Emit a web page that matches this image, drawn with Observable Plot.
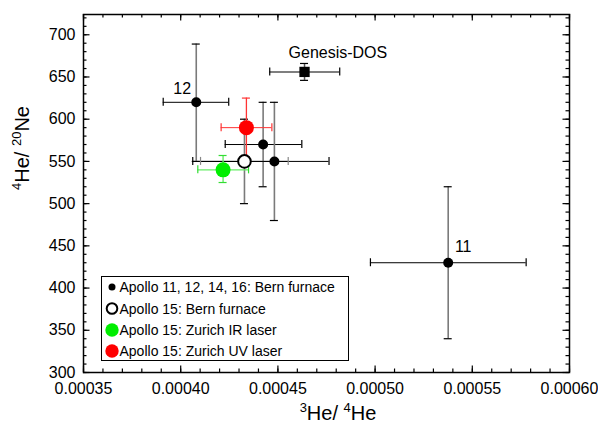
<!DOCTYPE html>
<html><head><meta charset="utf-8">
<script src="https://cdn.jsdelivr.net/npm/d3@7"></script>
<script src="https://cdn.jsdelivr.net/npm/@observablehq/plot@0.6"></script>
<style>
body{margin:0;background:#fff;}
#chart{position:relative;width:598px;height:431px;}
</style>
</head><body><div id="chart"></div>
<script>
// ---- data ----
const bernLabel = ["12", "", "", "11"];
const bernX    = [0.000408, 0.0004424, 0.0004482, 0.0005376];
const bernXmin = [0.000391, 0.0004229, 0.0004062, 0.0004976];
const bernXmax = [0.0004247, 0.0004623, 0.0004763, 0.0005777];
const bernY    = [620, 570, 550, 430];
const bernYmin = [550, 520, 480, 340];
const bernYmax = [689, 620, 620, 520];

const genesisLabel = "Genesis-DOS";
const genesisX = [0.0004637], genesisXmin = [0.0004458], genesisXmax = [0.0004818];
const genesisY = [656], genesisYmin = [646], genesisYmax = [666];

const a15BernX = [0.0004328], a15BernXmin = [0.0004102], a15BernXmax = [0.0004553];
const a15BernY = [550], a15BernYmin = [500], a15BernYmax = [600];

const irX = [0.0004218], irXmin = [0.0004088], irXmax = [0.0004349];
const irY = [540], irYmin = [525], irYmax = [557];

const uvX = [0.0004338], uvXmin = [0.0004208], uvXmax = [0.0004469];
const uvY = [590], uvYmin = [555], uvYmax = [625];

const legendLabels = [
  "Apollo 11, 12, 14, 16: Bern furnace",
  "Apollo 15: Bern furnace",
  "Apollo 15: Zurich IR laser",
  "Apollo 15: Zurich UV laser"
];

const xTicks = [0.00035, 0.0004, 0.00045, 0.0005, 0.00055, 0.0006];
const xTickLabels = ["0.00035", "0.00040", "0.00045", "0.00050", "0.00055", "0.00060"];
const yTicks = [300, 350, 400, 450, 500, 550, 600, 650, 700];
const yTickLabels = ["300", "350", "400", "450", "500", "550", "600", "650", "700"];
const xMinorTicks = d3.range(35, 61).map(v => v / 100000);
const yMinorTicks = d3.range(300, 725, 10);

// ---- build tables ----
function rows(X, Xmin, Xmax, Y, Ymin, Ymax, L) {
  return X.map((x, i) => ({x, xmin: Xmin[i], xmax: Xmax[i], y: Y[i], ymin: Ymin[i], ymax: Ymax[i], label: L ? L[i] : ""}));
}
const bern = rows(bernX, bernXmin, bernXmax, bernY, bernYmin, bernYmax, bernLabel);
const genesis = rows(genesisX, genesisXmin, genesisXmax, genesisY, genesisYmin, genesisYmax, [genesisLabel]);
const a15 = rows(a15BernX, a15BernXmin, a15BernXmax, a15BernY, a15BernYmin, a15BernYmax);
const ir = rows(irX, irXmin, irXmax, irY, irYmin, irYmax);
const uv = rows(uvX, uvXmin, uvXmax, uvY, uvYmin, uvYmax);

const xLab = new Map(xTicks.map((t, i) => [t, xTickLabels[i]]));
const yLab = new Map(yTicks.map((t, i) => [t, yTickLabels[i]]));

function errorBars(data, s) {
  return [
    Plot.ruleY(data, {y: "y", x1: "xmin", x2: "xmax", stroke: s.h, strokeWidth: s.hw || 1}),
    Plot.ruleX(data, {x: "x", y1: "ymin", y2: "ymax", stroke: s.v, strokeWidth: s.vw || 1}),
    Plot.ruleX(data, {x: "xmin", y1: "y", y2: "y", insetTop: -4, insetBottom: -4, stroke: s.xc, strokeWidth: 1.2}),
    Plot.ruleX(data, {x: "xmax", y1: "y", y2: "y", insetTop: -4, insetBottom: -4, stroke: s.xc, strokeWidth: 1.2}),
    Plot.ruleY(data, {y: "ymin", x1: "x", x2: "x", insetLeft: -4, insetRight: -4, stroke: s.yc, strokeWidth: 1.2}),
    Plot.ruleY(data, {y: "ymax", x1: "x", x2: "x", insetLeft: -4, insetRight: -4, stroke: s.yc, strokeWidth: 1.2})
  ];
}

const W = 598, H = 431, mL = 83, mR = 29, mT = 14, mB = 59;
const pw = W - mL - mR, ph = H - mT - mB;
const maj = 6.5, mnr = 3.5;

const chart = Plot.plot({
  width: W, height: H,
  marginLeft: mL, marginRight: mR, marginTop: mT, marginBottom: mB,
  x: {domain: [0.00035, 0.0006]},
  y: {domain: [300, 724]},
  style: {fontFamily: "'Liberation Sans', Arial, sans-serif", fontSize: "16px", color: "black", background: "white", overflow: "visible"},
  marks: [
    Plot.axisX(xTicks, {anchor: "bottom", tickSize: 0, tickPadding: 10, tickFormat: d => xLab.get(d), label: null, fill: "black"}),
    Plot.axisY(yTicks, {anchor: "left", tickSize: 0, tickPadding: 8, tickFormat: d => yLab.get(d), label: null, fill: "black"}),
    // inward ticks on all four sides
    Plot.tickX(xTicks, {x: d => d, insetTop: ph - maj, stroke: "black", strokeWidth: 1.2}),
    Plot.tickX(xTicks, {x: d => d, insetBottom: ph - maj, stroke: "black", strokeWidth: 1.2}),
    Plot.tickX(xMinorTicks, {x: d => d, insetTop: ph - mnr, stroke: "black", strokeWidth: 1.2}),
    Plot.tickX(xMinorTicks, {x: d => d, insetBottom: ph - mnr, stroke: "black", strokeWidth: 1.2}),
    Plot.tickY(yTicks, {y: d => d, insetRight: pw - maj, stroke: "black", strokeWidth: 1.2}),
    Plot.tickY(yTicks, {y: d => d, insetLeft: pw - maj, stroke: "black", strokeWidth: 1.2}),
    Plot.tickY(yMinorTicks, {y: d => d, insetRight: pw - mnr, stroke: "black", strokeWidth: 1.2}),
    Plot.tickY(yMinorTicks, {y: d => d, insetLeft: pw - mnr, stroke: "black", strokeWidth: 1.2}),
    // error bars
    ...errorBars(bern, {h: "black", v: "#7a7a7a", vw: 1.6, xc: "black", yc: "black"}),
    ...errorBars(genesis, {h: "#555", hw: 1.5, v: "#555", vw: 1.5, xc: "black", yc: "black"}),
    ...errorBars(a15, {h: "black", v: "#7a7a7a", vw: 1.6, xc: "#888", yc: "black"}),
    ...errorBars(ir, {h: "#66ee66", hw: 1.4, v: "#66ee66", vw: 1.4, xc: "#33dd33", yc: "#33dd33"}),
    ...errorBars(uv, {h: "#ff3333", v: "#ff3333", vw: 1.3, xc: "#ff3333", yc: "#ff3333"}),
    // points
    Plot.dot(bern, {x: "x", y: "y", r: 5, fill: "black"}),
    Plot.dot(genesis, {x: "x", y: "y", r: 5.8, symbol: "square", fill: "black"}),
    Plot.dot(a15, {x: "x", y: "y", r: 6.3, fill: "white", stroke: "black", strokeWidth: 2}),
    Plot.dot(ir, {x: "x", y: "y", r: 7.5, fill: "#00ee00"}),
    Plot.dot(uv, {x: "x", y: "y", r: 7.5, fill: "#ff0000"}),
    // labels
    Plot.text(bern, {filter: d => d.label === "12", x: "x", y: "y", text: "label", dx: -14, dy: -13, fontSize: 16}),
    Plot.text(bern, {filter: d => d.label === "11", x: "x", y: "y", text: "label", dx: 15, dy: -16, fontSize: 16}),
    Plot.text(genesis, {x: "x", y: "y", text: "label", dx: -16, dy: -19, textAnchor: "start", fontSize: 16}),
    Plot.frame({stroke: "black", strokeWidth: 1.5})
  ]
});

document.getElementById("chart").appendChild(chart);

// ---- axis titles with superscripts ----
const svg = d3.select(chart);
const ff = "'Liberation Sans', Arial, sans-serif";
const xt = svg.append("text").attr("x", 338).attr("y", 420).attr("text-anchor", "middle")
  .attr("font-family", ff).attr("font-size", 20).attr("fill", "black");
xt.append("tspan").attr("font-size", 13).attr("dy", -8).text("3");
xt.append("tspan").attr("dy", 8).text("He/ ");
xt.append("tspan").attr("font-size", 13).attr("dy", -8).text("4");
xt.append("tspan").attr("dy", 8).text("He");

const yt = svg.append("text").attr("transform", "translate(29,148) rotate(-90)").attr("text-anchor", "middle")
  .attr("font-family", ff).attr("font-size", 20).attr("fill", "black");
yt.append("tspan").attr("font-size", 13).attr("dy", -8).text("4");
yt.append("tspan").attr("dy", 8).text("He/ ");
yt.append("tspan").attr("font-size", 13).attr("dy", -8).text("20");
yt.append("tspan").attr("dy", 8).text("Ne");

// ---- legend ----
const lg = svg.append("g").attr("font-family", ff).attr("font-size", 14).attr("text-anchor", "start");
lg.append("rect").attr("x", 101.5).attr("y", 276.5).attr("width", 247).attr("height", 84)
  .attr("fill", "white").attr("stroke", "black").attr("stroke-width", 1);
const legendSym = [
  {r: 3.5, fill: "black", stroke: "none", sw: 0},
  {r: 5.3, fill: "white", stroke: "black", sw: 2},
  {r: 6.7, fill: "#00ee00", stroke: "none", sw: 0},
  {r: 6.7, fill: "#ff0000", stroke: "none", sw: 0}
];
const rowY = [287, 308.5, 330, 351];
legendLabels.forEach((t, i) => {
  const s = legendSym[i];
  lg.append("circle").attr("cx", 112).attr("cy", rowY[i]).attr("r", s.r)
    .attr("fill", s.fill).attr("stroke", s.stroke).attr("stroke-width", s.sw);
  lg.append("text").attr("x", 119.5).attr("y", rowY[i]).attr("dy", "0.36em")
    .attr("text-anchor", "start").attr("fill", "black").text(t);
});
</script>
</body></html>
